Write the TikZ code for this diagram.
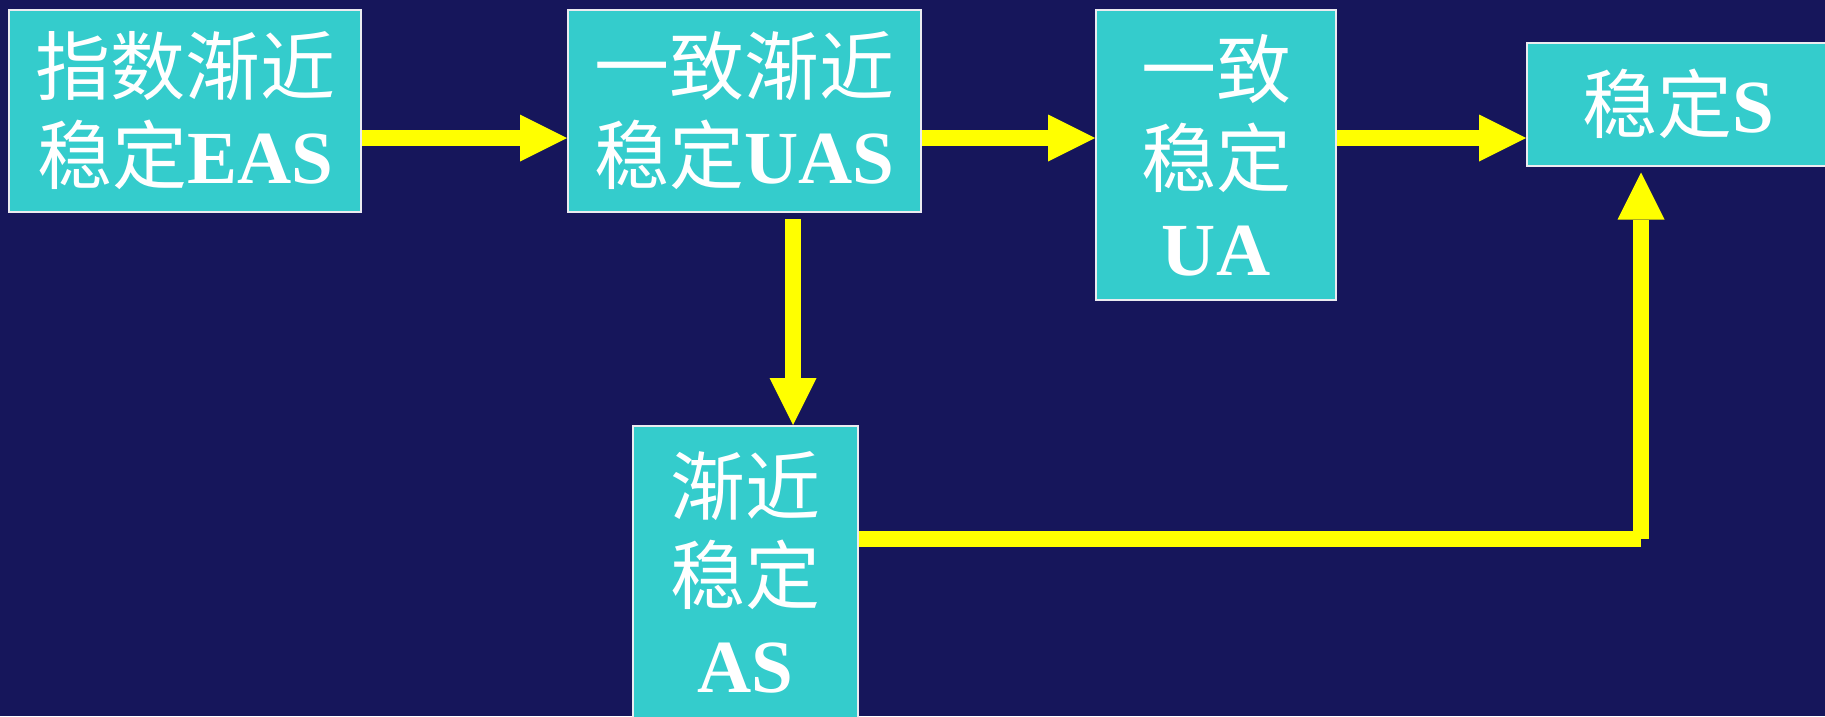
\documentclass[tikz,border=0pt]{standalone}
\usepackage{fontspec}
\setmainfont{Liberation Serif}
\newfontfamily\cjkfont{Noto Sans CJK SC}
\newcommand\cjktext[1]{{\cjkfont\mdseries #1}}
\usetikzlibrary{arrows.meta}
\definecolor{bgnavy}{RGB}{22,22,91}
\definecolor{boxfill}{RGB}{52,204,204}
\definecolor{arryellow}{RGB}{255,255,0}
\definecolor{boxline}{RGB}{235,235,240}
\begin{document}
\begin{tikzpicture}[x=1pt,y=-1pt,
  box/.style={draw=boxline, line width=2pt, fill=boxfill, inner sep=0pt,
    align=center, text=white, font=\fontsize{75}{89}\selectfont\bfseries},
  conn/.style={draw=arryellow, line width=16pt},
  tip/.style={-{Triangle[length=47pt,width=47pt,line width=0pt]}}
]
\useasboundingbox (0,0) rectangle (1825,716);
\clip (0,0) rectangle (1825,716);
\fill[bgnavy] (0,0) rectangle (1825,716);

\node[box, minimum width=352pt, minimum height=202pt] (eas) at (185,111)
  {\cjktext{指数渐近}\\\cjktext{稳定}EAS};
\node[box, minimum width=353pt, minimum height=202pt] (uas) at (744.5,111)
  {\cjktext{一致渐近}\\\cjktext{稳定}UAS};
\node[box, minimum width=240pt, minimum height=290pt] (ua) at (1216,155)
  {\cjktext{一致}\\\cjktext{稳定}\\UA};
\node[box, minimum width=302pt, minimum height=123pt] (s) at (1678,104)
  {\cjktext{稳定}S};
\node[box, minimum width=225pt, minimum height=292pt] (as) at (745,572)
  {\cjktext{渐近}\\\cjktext{稳定}\\AS};

\coordinate (h) at (0,138);
\coordinate (v) at (793,0);
\coordinate (c) at (1641,539);

\draw[conn,tip] (eas.east |- h) -- (uas.west |- h);
\draw[conn,tip] (uas.east |- h) -- (ua.west |- h);
\draw[conn,tip] (ua.east |- h) -- (s.west |- h);
\draw[conn,tip,shorten <=6pt] (uas.south -| v) -- (as.north -| v);
\draw[conn] (as.east |- c) -- (c);
\draw[conn,tip,shorten >=6pt] (c) -- (s.south -| c);
\end{tikzpicture}
\end{document}
